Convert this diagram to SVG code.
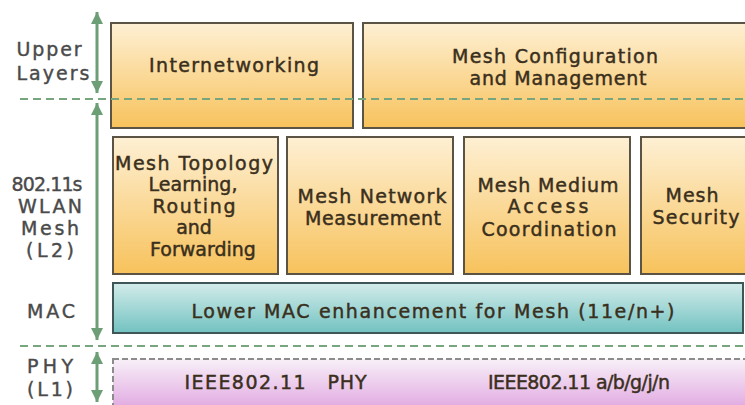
<svg xmlns="http://www.w3.org/2000/svg" width="745" height="405" viewBox="0 0 745 405">
  <defs>
    <linearGradient id="gOrange" x1="0" y1="0" x2="0" y2="1">
      <stop offset="0" stop-color="#fef0d4"/>
      <stop offset="1" stop-color="#f7c25c"/>
    </linearGradient>
    <linearGradient id="gTeal" x1="0" y1="0" x2="0" y2="1">
      <stop offset="0" stop-color="#d3ecea"/>
      <stop offset="1" stop-color="#72c2c1"/>
    </linearGradient>
    <linearGradient id="gPink" x1="0" y1="0" x2="0" y2="1">
      <stop offset="0" stop-color="#f8f0f8"/>
      <stop offset="1" stop-color="#dc9adc"/>
    </linearGradient>
    <marker id="arrow" viewBox="0 0 10 10" refX="10" refY="5" markerWidth="12" markerHeight="12" markerUnits="userSpaceOnUse" orient="auto-start-reverse">
      <path d="M0,0 L10,5 L0,10 z" fill="#6d9f76"/>
    </marker>
  </defs>
  <style>
    .box { fill: url(#gOrange); stroke: #5b5444; stroke-width: 2; }
    .mac { fill: url(#gTeal); stroke: #3e5655; stroke-width: 2; }
    .phy { fill: url(#gPink); stroke: #8c8c8c; stroke-width: 2; stroke-dasharray: 6 3; }
    .t { font-family: "DejaVu Sans", "Liberation Sans", sans-serif; font-size: 19px; fill: #3a2f1c; stroke: #3a2f1c; stroke-width: 0.45; text-anchor: middle; }
    .lab { font-family: "DejaVu Sans", "Liberation Sans", sans-serif; font-size: 19px; fill: #4a4a4a; stroke: #4a4a4a; stroke-width: 0.4; text-anchor: middle; }
    .dash { stroke: #76a57e; stroke-width: 2.2; stroke-dasharray: 8 5; fill: none; }
    .arr { stroke: #6d9f76; stroke-width: 3; fill: none; marker-start: url(#arrow); marker-end: url(#arrow); }
  </style>

  <rect width="745" height="405" fill="#ffffff"/>

  <!-- layer labels -->
  <g id="label-upper">
    <text class="lab" x="49" y="56" textLength="65">Upper</text>
    <text class="lab" x="53" y="80" textLength="73">Layers</text>
  </g>
  <g id="label-l2">
    <text class="lab" x="47" y="191" textLength="71">802.11s</text>
    <text class="lab" x="50" y="213" textLength="64">WLAN</text>
    <text class="lab" x="50" y="235" textLength="58">Mesh</text>
    <text class="lab" x="50" y="257" textLength="48">(L2)</text>
  </g>
  <g id="label-mac">
    <text class="lab" x="51" y="318" textLength="48">MAC</text>
  </g>
  <g id="label-phy">
    <text class="lab" x="50" y="373" textLength="46">PHY</text>
    <text class="lab" x="50" y="396" textLength="46">(L1)</text>
  </g>

  <!-- upper layer blocks -->
  <g id="internetworking">
    <rect class="box" x="111" y="23" width="242" height="105"/>
    <text class="t" x="234" y="72" textLength="170">Internetworking</text>
  </g>
  <g id="mesh-config">
    <rect class="box" x="363" y="23" width="390" height="105"/>
    <text class="t" x="555" y="63" textLength="206">Mesh Configuration</text>
    <text class="t" x="558" y="85" textLength="177">and Management</text>
  </g>

  <!-- 802.11s mesh function blocks -->
  <g id="mesh-topology">
    <rect class="box" x="113" y="137" width="165" height="137"/>
    <text class="t" x="194" y="170" textLength="158">Mesh Topology</text>
    <text class="t" x="193" y="191" textLength="89">Learning,</text>
    <text class="t" x="194" y="213" textLength="83">Routing</text>
    <text class="t" x="194" y="234">and</text>
    <text class="t" x="203" y="256">Forwarding</text>
  </g>
  <g id="mesh-measurement">
    <rect class="box" x="287" y="137" width="166" height="137"/>
    <text class="t" x="372" y="203" textLength="149">Mesh Network</text>
    <text class="t" x="373" y="225" textLength="136">Measurement</text>
  </g>
  <g id="mesh-access">
    <rect class="box" x="464" y="137" width="166" height="137"/>
    <text class="t" x="548" y="192" textLength="141">Mesh Medium</text>
    <text class="t" x="548" y="213" textLength="81">Access</text>
    <text class="t" x="549" y="236" textLength="135">Coordination</text>
  </g>
  <g id="mesh-security">
    <rect class="box" x="641" y="137" width="110" height="137"/>
    <text class="t" x="692" y="202" textLength="53">Mesh</text>
    <text class="t" x="696" y="224" textLength="87">Security</text>
  </g>

  <!-- lower MAC -->
  <g id="lower-mac">
    <rect class="mac" x="113" y="283" width="630" height="50"/>
    <text class="t" x="433" y="318" textLength="483">Lower MAC enhancement for Mesh (11e/n+)</text>
  </g>

  <!-- PHY -->
  <g id="phy">
    <rect class="phy" x="113" y="359" width="640" height="60"/>
    <text class="t" x="245" y="389" textLength="121">IEEE802.11</text>
    <text class="t" x="347" y="389" textLength="39">PHY</text>
    <text class="t" x="579" y="389" textLength="182">IEEE802.11 a/b/g/j/n</text>
  </g>

  <!-- layer boundaries and extent arrows -->
  <g id="connectors">
    <line class="dash" x1="20" y1="99" x2="745" y2="99"/>
    <line class="dash" x1="20" y1="346" x2="745" y2="346"/>
    <line class="arr" x1="97" y1="12" x2="97" y2="93"/>
    <line class="arr" x1="97" y1="103" x2="97" y2="340"/>
    <line class="arr" x1="97" y1="352" x2="97" y2="402"/>
  </g>
</svg>
